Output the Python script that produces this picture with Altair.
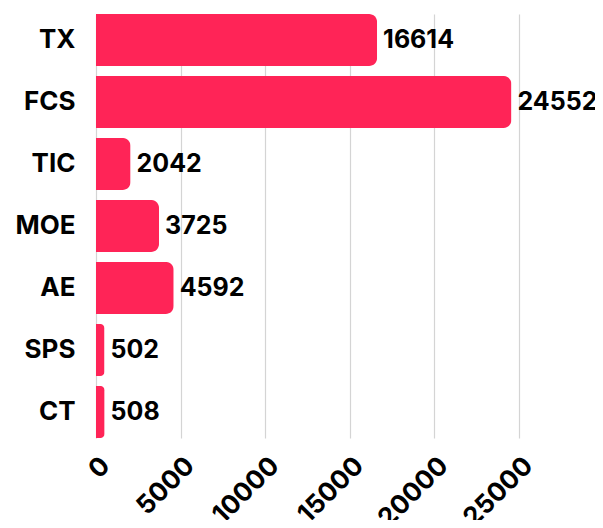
import altair as alt
import pandas as pd

categories = ["TX", "FCS", "TIC", "MOE", "AE", "SPS", "CT"]
values = [16614, 24552, 2042, 3725, 4592, 502, 508]
x_ticks = [0, 5000, 10000, 15000, 20000, 25000]

df = pd.DataFrame({"cat": categories, "val": values})

FONT = "Inter"
COLOR = "#FF2457"
FS = 26

base = alt.Chart(df).encode(
    y=alt.Y("cat:N", sort=categories,
            scale=alt.Scale(paddingInner=0.16, paddingOuter=0.0),
            axis=alt.Axis(title=None, ticks=False, domain=False, labelPadding=21,
                          labelFont=FONT, labelFontSize=FS, labelFontWeight="bold",
                          labelColor="#000000")),
)

bars = base.mark_bar(color=COLOR, cornerRadiusEnd=8).encode(
    x=alt.X("val:Q", scale=alt.Scale(domain=[0, 25000], nice=False),
            axis=alt.Axis(title=None, values=x_ticks, ticks=False, domain=False,
                          format="d", labelOverlap=False, labelFlush=False,
                          labelAngle=-45, labelPadding=14,
                          labelFont=FONT, labelFontSize=FS, labelFontWeight="bold",
                          labelColor="#000000", gridColor="#d4d4d4", gridWidth=1.2))
)

labels = base.mark_text(align="left", baseline="middle", dx=6, font=FONT,
                        fontSize=25, fontWeight="bold", color="#000000").encode(
    x="val:Q",
    text="val:Q",
)

chart = (bars + labels).properties(
    width=423, height=424,
    autosize=alt.AutoSizeParams(type="none"),
    padding={"left": 88, "top": 6, "right": 76, "bottom": 82},
).configure_view(stroke=None)

chart.save("out.html", embed_options={"renderer": "svg", "actions": False})
